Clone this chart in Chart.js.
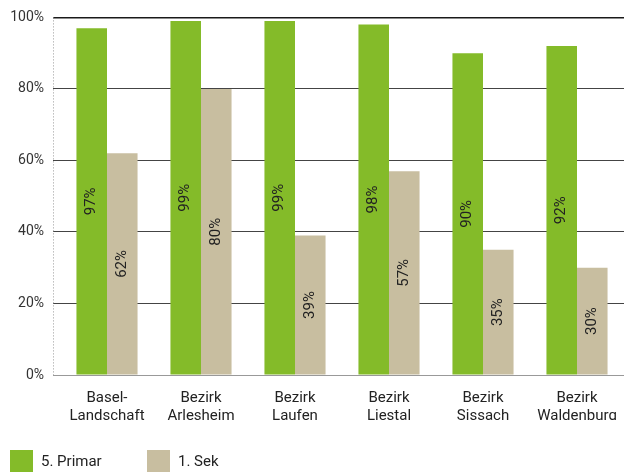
<!DOCTYPE html>
<html>
<head>
<meta charset="utf-8">
<script src="https://cdn.jsdelivr.net/npm/chart.js@4"></script>
<style>
	html, body { margin: 0; padding: 0; background: #fff; }
	#wrap { position: relative; width: 625px; height: 472px; }
	#legend { position: absolute; left: 10px; top: 450px; display: flex; font: 15px Roboto, sans-serif; color: #222; }
	.item { display: flex; align-items: center; }
	.box { width: 23px; height: 22px; margin-right: 8px; }
</style>
</head>
<body>
<div id="wrap">
	<canvas id="chart" width="625" height="472"></canvas>
	<div id="legend"></div>
</div>
<script>
const categories = [['Basel-', 'Landschaft'], ['Bezirk', 'Arlesheim'], ['Bezirk', 'Laufen'], ['Bezirk', 'Liestal'], ['Bezirk', 'Sissach'], ['Bezirk', 'Waldenburg']]
const seriesNames = ['5. Primar', '1. Sek']
const primarValues = [97, 99, 99, 98, 90, 92]
const sekValues = [62, 80, 39, 57, 35, 30]
const yTicks = [0, 20, 40, 60, 80, 100]
const colors = ['#84bb29', '#c8bea0']

const valueLabels = {
	id: 'valueLabels',
	afterDatasetsDraw: (chart) => {
		const ctx = chart.ctx
		ctx.save()
		ctx.font = '15px Roboto, sans-serif'
		ctx.fillStyle = '#222'
		ctx.textAlign = 'center'
		ctx.textBaseline = 'middle'
		chart.data.datasets.forEach((ds, i) => {
			chart.getDatasetMeta(i).data.forEach((bar, j) => {
				ctx.save()
				ctx.translate(bar.x, (bar.y + bar.base) / 2)
				ctx.rotate(-Math.PI / 2)
				ctx.fillText(ds.data[j] + '%', 0, 0)
				ctx.restore()
			})
		})
		ctx.restore()
	}
}

const dottedAxis = {
	id: 'dottedAxis',
	beforeDatasetsDraw: (chart) => {
		const ctx = chart.ctx
		const area = chart.chartArea
		ctx.save()
		ctx.strokeStyle = '#999'
		ctx.lineWidth = 1
		ctx.setLineDash([1, 2])
		ctx.beginPath()
		ctx.moveTo(area.left - 6.5, area.top)
		ctx.lineTo(area.left - 6.5, area.bottom)
		ctx.stroke()
		ctx.restore()
	}
}

const config = {
	type: 'bar',
	data: {
		labels: categories,
		datasets: seriesNames.map((name, i) => ({
			label: name,
			data: i == 0 ? primarValues : sekValues,
			backgroundColor: colors[i],
			categoryPercentage: 0.65,
			barPercentage: 1
		}))
	},
	options: {
		responsive: false,
		animation: false,
		layout: { padding: { top: 14, right: 1, left: 0, bottom: 52 } },
		plugins: {
			legend: { display: false },
			tooltip: { enabled: false }
		},
		scales: {
			x: {
				grid: { display: false },
				border: { display: false },
				ticks: { color: '#222', font: { family: 'Roboto', size: 15, lineHeight: 1.2 }, padding: 6, maxRotation: 0 },
				afterFit: (scale) => { scale.height = 45 }
			},
			y: {
				min: 0,
				max: 100,
				afterBuildTicks: (scale) => { scale.ticks = yTicks.map(v => ({ value: v })) },
				grid: {
					color: (c) => c.tick.value == 100 ? '#1a1a1a' : c.tick.value == 0 ? '#999' : '#444',
					lineWidth: (c) => c.tick.value == 100 ? 1.5 : 1,
					tickLength: 7
				},
				border: { display: false },
				ticks: { color: '#333', font: { family: 'Roboto', size: 14 }, padding: 9, callback: (v) => v + '%' },
				afterFit: (scale) => { scale.width = 60 }
			}
		}
	},
	plugins: [dottedAxis, valueLabels]
}

const ctx = document.querySelector('#chart').getContext('2d')
const chart = new Chart(ctx, config)

const legend = document.querySelector('#legend')
seriesNames.forEach((name, i) => {
	const item = document.createElement('div')
	item.className = 'item'
	item.style.width = i == 0 ? '137px' : 'auto'
	item.innerHTML = '<span class="box" style="background:' + colors[i] + '"></span><span>' + name + '</span>'
	legend.appendChild(item)
})
</script>
</body>
</html>
